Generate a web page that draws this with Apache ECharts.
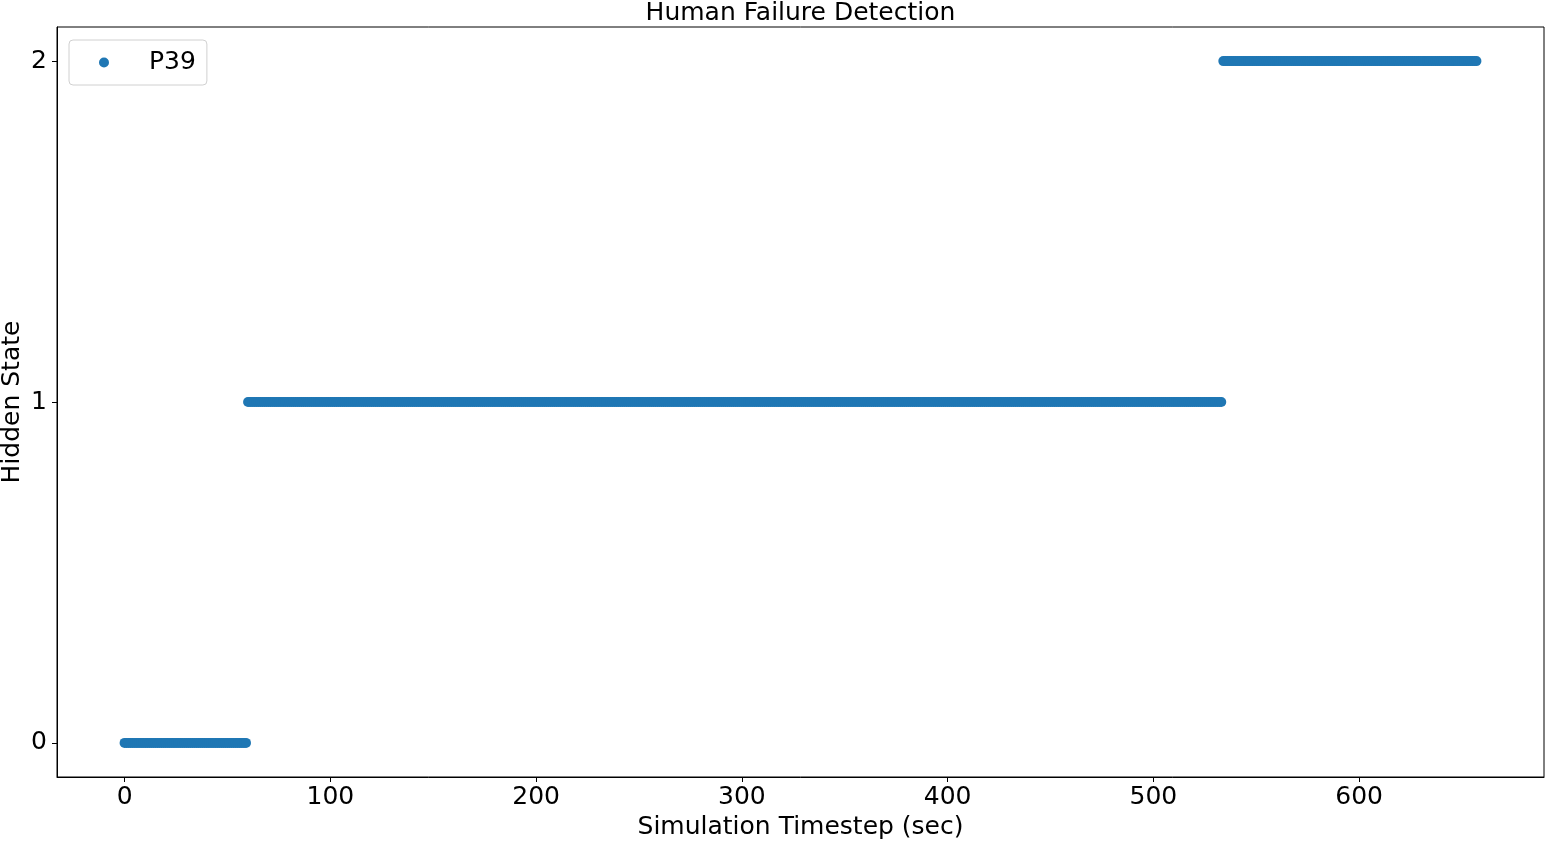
<!DOCTYPE html>
<html>
<head>
<meta charset="utf-8">
<title>Human Failure Detection</title>
<script src="https://cdn.jsdelivr.net/npm/echarts@6/dist/echarts.min.js"></script>
<style>
    html, body { margin: 0; padding: 0; background: #fff; }
    #chart { width: 1546px; height: 841px; }
</style>
</head>
<body>
<div id="chart"></div>
<script>
// hidden state per run of timesteps (one point per second)
const stateLevels = [0, 1, 2]
const runStart = [0, 60, 534]
const runEnd = [59, 533, 657]

const xTicks = [0, 100, 200, 300, 400, 500, 600]
const yTicks = [0, 1, 2]

const seriesName = 'P39'
const fontFamily = 'DejaVu Sans'
const fontSize = 25

// expand the runs into (timestep, state) points
const points = []
stateLevels.forEach((s, i) => {
    for (let t = runStart[i]; t <= runEnd[i]; t++) {
        points.push([t, s])
    }
})

const chart = echarts.init(document.getElementById('chart'))

chart.setOption({
    animation: false,
    textStyle: { fontFamily },
    title: {
        text: 'Human Failure Detection',
        left: 800.5,
        top: 1,
        padding: 0,
        textAlign: 'center',
        textStyle: { fontFamily, fontSize, fontWeight: 'normal', color: '#000' }
    },
    legend: {
        left: 69,
        top: 40,
        orient: 'vertical',
        padding: [10, 11, 10, 30],
        borderColor: '#d0d0d0',
        borderWidth: 1,
        borderRadius: 4,
        itemWidth: 40,
        itemHeight: 10,
        icon: 'circle',
        textStyle: { fontFamily, fontSize, color: '#000', padding: [0, 0, 0, 20] },
        data: [seriesName]
    },
    grid: {
        left: 57,
        right: 2,
        top: 27,
        bottom: 64,
        outerBoundsMode: 'none',
        show: true,
        borderColor: '#000',
        borderWidth: 1
    },
    xAxis: {
        type: 'value',
        min: -32.85,
        max: 689.85,
        name: 'Simulation Timestep (sec)',
        nameLocation: 'middle',
        nameGap: 38,
        nameMoveOverlap: false,
        nameTextStyle: { fontFamily, fontSize, color: '#000' },
        splitLine: { show: false },
        axisLine: { show: true, onZero: false, lineStyle: { color: '#000' } },
        axisTick: { show: true, length: 5, customValues: xTicks, lineStyle: { color: '#000' } },
        axisLabel: { fontFamily, fontSize, color: '#000', margin: 8, customValues: xTicks }
    },
    yAxis: {
        type: 'value',
        min: -0.1,
        max: 2.1,
        name: 'Hidden State',
        nameLocation: 'middle',
        nameGap: 32,
        nameRotate: 90,
        nameMoveOverlap: false,
        nameTextStyle: { fontFamily, fontSize, color: '#000' },
        splitLine: { show: false },
        axisLine: { show: true, onZero: false, lineStyle: { color: '#000' } },
        axisTick: { show: true, length: 5, customValues: yTicks, lineStyle: { color: '#000' } },
        axisLabel: { fontFamily, fontSize, color: '#000', margin: 10, customValues: yTicks }
    },
    series: [{
        name: seriesName,
        type: 'scatter',
        symbol: 'circle',
        symbolSize: 10,
        itemStyle: { color: '#1f77b4', opacity: 1 },
        data: points
    }]
})
</script>
</body>
</html>
